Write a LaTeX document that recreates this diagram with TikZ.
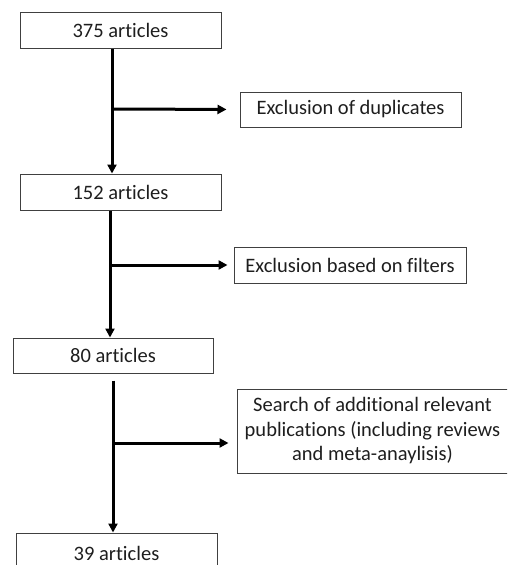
\documentclass[tikz,border=0pt]{standalone}
\usepackage{fontspec}
\setmainfont{Carlito}[RawFeature=-liga]
\usetikzlibrary{arrows.meta}
\definecolor{boxline}{RGB}{64,64,64}
\definecolor{txt}{RGB}{30,30,30}
\begin{document}
\begin{tikzpicture}[
				x = 1pt, y = -1pt,
				every node/.style = {draw = boxline, line width = 1pt, inner sep = 0pt, align = center, text = txt,
					font = \fontsize{20.5}{24.5}\selectfont},
				arr/.style = {line width = 3pt, -{Triangle[length=9pt, width=9pt]}},
				tall/.style = {minimum width = 201pt, minimum height = 36pt}
			]
			\clip (0,0) rectangle (507,565);
			\useasboundingbox (0,0) rectangle (507,565);

			\node (a) [tall] at (120.5,30) {375 articles};
			\node (b) [tall] at (120.5,192) {152 articles};
			\node (c) [tall, minimum width = 200pt, minimum height = 35pt] at (113,355.5) {80 articles};
			\node (d) [tall, minimum height = 40pt] at (116.5,553) {39 articles};

			\node (x) [minimum width = 221pt, minimum height = 35pt] at (350.5,109.5) {Exclusion of duplicates};
			\node (y) [minimum width = 232pt, minimum height = 36pt] at (350,265) {Exclusion based on filters};
			\node (z) [minimum width = 271pt, minimum height = 84pt] at (372.5,431) {Search of additional relevant\\publications (including reviews\\and meta-anaylisis)};

			\coordinate (p) at (112,109);
			\coordinate (q) at (110,265);
			\coordinate (r) at (113,443);

			\draw [arr] (p |- a.south) -- (p |- b.north);
			\draw [arr, shorten >= 13pt] (p) -- (x.west);
			\draw [arr] (q |- b.south) -- (q |- c.north);
			\draw [arr, shorten >= 6pt] (q) -- (y.west);
			\draw [arr, shorten <= 7pt] (r |- c.south) -- (r |- d.north);
			\draw [arr, shorten >= 8pt] (r) -- (r -| z.west);
		\end{tikzpicture}
\end{document}
